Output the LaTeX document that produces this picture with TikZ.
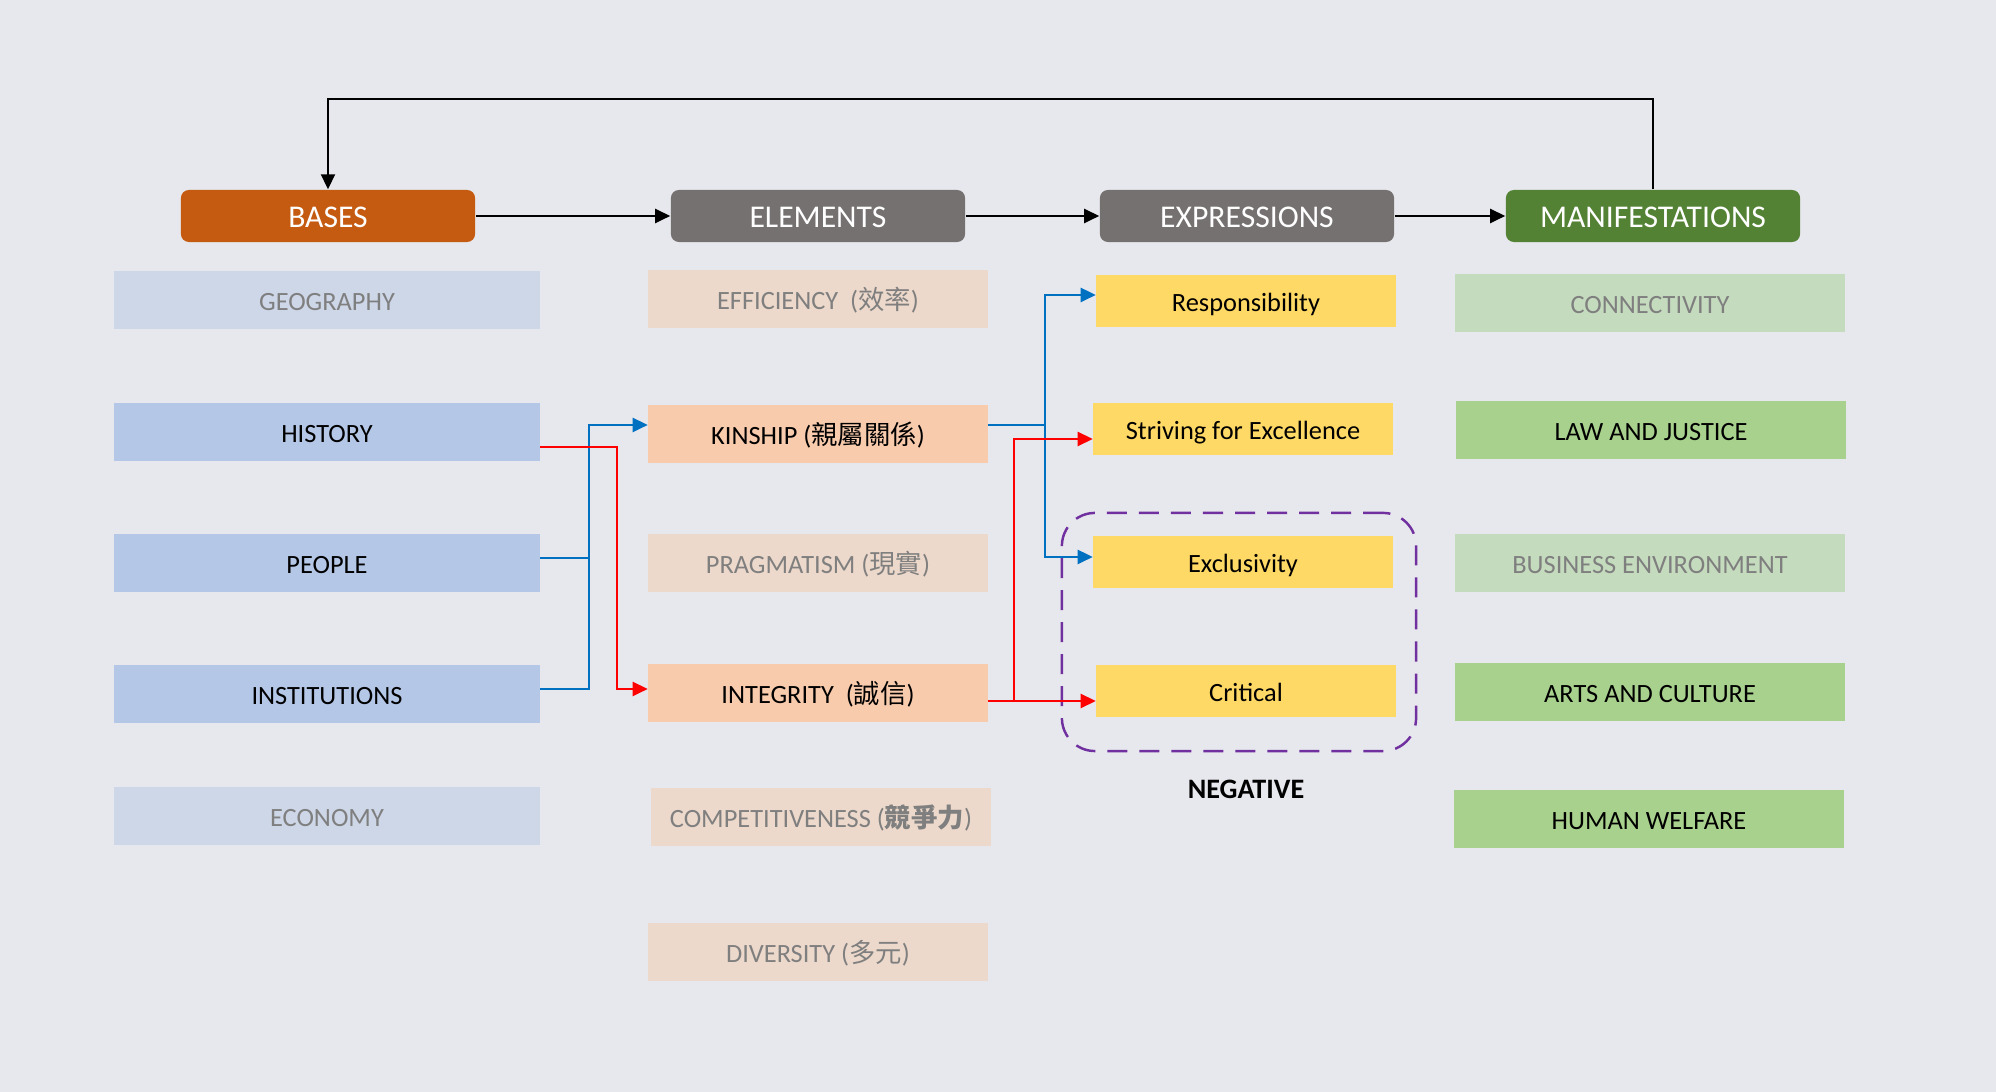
\documentclass[tikz,border=0pt]{standalone}
\usepackage{fontspec}
\setmainfont{Carlito}
\newfontfamily\cjk{Noto Sans CJK TC}
\newcommand{\zh}[1]{{\cjk #1}}
\usetikzlibrary{arrows.meta,positioning,calc}

\definecolor{bgcol}{HTML}{E7E8ED}
\definecolor{basehdr}{HTML}{C55A11}
\definecolor{greyhdr}{HTML}{767171}
\definecolor{greenhdr}{HTML}{548235}
\definecolor{baseon}{HTML}{B4C7E7}
\definecolor{baseoff}{HTML}{CDD7E8}
\definecolor{elemon}{HTML}{F8CBAD}
\definecolor{elemoff}{HTML}{EDD9CB}
\definecolor{exprfill}{HTML}{FFD966}
\definecolor{manion}{HTML}{A9D18E}
\definecolor{manioff}{HTML}{C5DBBE}
\definecolor{fadetext}{HTML}{7F7F7F}
\definecolor{linkblue}{HTML}{0070C0}
\definecolor{linkred}{HTML}{FF0000}
\definecolor{negpurple}{HTML}{7030A0}

\begin{document}
\begin{tikzpicture}[
  x=0.01cm, y=-0.01cm,
  hdr/.style={
    rectangle, rounded corners=0.08cm, minimum width=2.94cm, minimum height=0.52cm,
    inner sep=0pt, text height=0.28cm, text depth=0.05cm,
    text=white, font=\fontsize{9}{11}\selectfont
  },
  item/.style={
    rectangle, inner sep=0pt, minimum height=0.57cm,
    text height=0.25cm, text depth=0.04cm, font=\fontsize{7.5}{9}\selectfont
  },
  faded/.style={text=fadetext},
  basebox/.style={item, fill=baseon, minimum width=4.25cm},
  elembox/.style={item, fill=elemon, minimum width=3.39cm},
  exprbox/.style={item, fill=exprfill, minimum width=2.99cm, minimum height=0.52cm},
  manibox/.style={item, fill=manion, minimum width=3.89cm},
  negbox/.style={
    rectangle, draw=negpurple, line width=0.7pt, dash pattern=on 0.2cm off 0.12cm,
    rounded corners=0.33cm, minimum width=3.54cm, minimum height=2.38cm
  },
  arr/.style={-{Triangle[length=0.15cm,width=0.14cm]}, line width=0.6pt},
  bluearr/.style={arr, draw=linkblue, line width=0.7pt},
  redarr/.style={arr, draw=linkred, line width=0.7pt},
]

%% Background (also fixes the page size)
\fill[bgcol] (0,0) rectangle (1996,1092);

%% Column headers
\node[hdr, fill=basehdr]  (bases) at (328,216)  {BASES};
\node[hdr, fill=greyhdr]  (elem)  at (818,216)  {ELEMENTS};
\node[hdr, fill=greyhdr]  (expr)  at (1247,216) {EXPRESSIONS};
\node[hdr, fill=greenhdr] (mani)  at (1653,216) {MANIFESTATIONS};

%% Bases
\node[basebox, fill=baseoff, faded] (geo)  at (327,300) {GEOGRAPHY};
\node[basebox]                      (hist) at (327,432) {HISTORY};
\node[basebox]                      (ppl)  at (327,563) {PEOPLE};
\node[basebox]                      (inst) at (327,694) {INSTITUTIONS};
\node[basebox, fill=baseoff, faded] (econ) at (327,816) {ECONOMY};

%% Elements
\node[elembox, fill=elemoff, faded] (eff)  at (818,299) {EFFICIENCY\ \ (\zh{效率})};
\node[elembox]                      (kin)  at (818,434) {KINSHIP (\zh{親屬關係})};
\node[elembox, fill=elemoff, faded] (prag) at (818,563) {PRAGMATISM (\zh{現實})};
\node[elembox]                      (intg) at (818,693) {INTEGRITY\ \ (\zh{誠信})};
\node[elembox, fill=elemoff, faded] (comp) at (821,817) {COMPETITIVENESS (\zh{\bfseries 競爭力})};
\node[elembox, fill=elemoff, faded] (div)  at (818,952) {DIVERSITY (\zh{多元})};

%% Expressions
\node[exprbox] (resp) at (1246,301) {Responsibility};
\node[exprbox] (striv) at (1243,429) {Striving for Excellence};
\node[exprbox] (excl) at (1243,562) {Exclusivity};
\node[exprbox] (crit) at (1246,691) {Critical};

%% Negative group
\node[negbox] (neg) at (1239,632) {};
\node[font=\fontsize{8}{10}\selectfont\bfseries] (neglbl) at (1246,789) {NEGATIVE};

%% Manifestations
\node[manibox, fill=manioff, faded] (conn) at (1650,303) {CONNECTIVITY};
\node[manibox]                      (law)  at (1651,430) {LAW AND JUSTICE};
\node[manibox, fill=manioff, faded] (bus)  at (1650,563) {BUSINESS ENVIRONMENT};
\node[manibox]                      (arts) at (1650,692) {ARTS AND CULTURE};
\node[manibox]                      (hum)  at (1649,819) {HUMAN WELFARE};

%% Header flow
\draw[arr] (bases) -- (elem);
\draw[arr] (elem)  -- (expr);
\draw[arr] (expr)  -- (mani);
\coordinate (top) at (0,99);
\draw[arr] (mani.north) -- (mani.north |- top) -- (bases.north |- top) -- (bases.north);

%% Link end points
\coordinate (hist out) at ([yshift=-0.15cm]hist.east);
\coordinate (ppl out)  at ([yshift=0.05cm]ppl.east);
\coordinate (inst out) at ([yshift=0.05cm]inst.east);
\coordinate (kin in)   at ([yshift=0.09cm]kin.west);
\coordinate (kin out)  at ([yshift=0.09cm]kin.east);
\coordinate (intg in)  at ([yshift=0.04cm]intg.west);
\coordinate (intg out) at ([yshift=-0.08cm]intg.east);
\coordinate (resp in)  at ([yshift=0.06cm]resp.west);
\coordinate (striv in) at ([yshift=-0.1cm]striv.west);
\coordinate (excl in)  at ([yshift=0.05cm]excl.west);
\coordinate (bj1) at (589,0);
\coordinate (rj1) at (617,0);
\coordinate (bj2) at (1045,0);
\coordinate (rj2) at (1014,0);

%% Bases to elements
\draw[linkblue, line width=0.7pt] (ppl out) -- (bj1 |- ppl out);
\draw[bluearr] (inst out) -| (bj1 |- kin in) -- (kin in);
\draw[redarr] (hist out) -| (rj1 |- intg in) -- (intg in);

%% Elements to expressions
\draw[bluearr] (kin out) -| (bj2 |- resp in) -- (resp in);
\draw[bluearr] (kin out) -| (bj2 |- excl in) -- (excl in);
\draw[redarr] (intg out) -| (rj2 |- striv in) -- (striv in);
\draw[redarr] (intg out) -- (intg out -| crit.west);

\end{tikzpicture}
\end{document}
